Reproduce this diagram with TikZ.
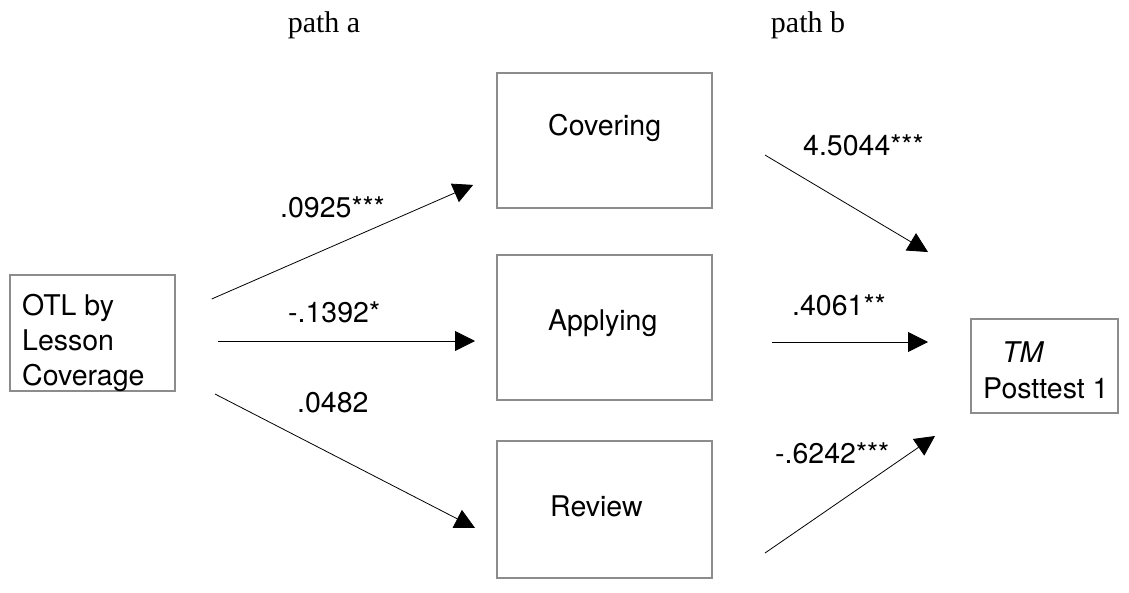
\documentclass[tikz,border=0pt]{standalone}
\usepackage{fontspec}
\setmainfont{TeX Gyre Heros}
\newfontfamily\pathfont{Liberation Serif}
\usetikzlibrary{arrows.meta}

\begin{document}
\begin{tikzpicture}[x=1pt,y=-1pt,
  box/.style={draw=black!45,line width=1.5pt,rectangle,inner sep=0pt,outer sep=0pt},
  txt/.style={anchor=base west,inner sep=0pt,font=\fontsize{28.5}{35}\selectfont},
  pth/.style={anchor=base,inner sep=0pt,font=\pathfont\fontsize{30}{36}\selectfont},
  arr/.style={-{Triangle[length=20pt,width=20pt]},line width=0.8pt}]
 \useasboundingbox (0,0) rectangle (1129,592);

 % boxes
 \node [box,minimum width=165pt,minimum height=116pt] (otl) at (92.5,333) {};
 \node [box,minimum width=215pt,minimum height=135pt] (cov) at (604.5,140.5) {};
 \node [box,minimum width=215pt,minimum height=145pt] (app) at (604.5,327.5) {};
 \node [box,minimum width=215pt,minimum height=137pt] (rev) at (604.5,509.5) {};
 \node [box,minimum width=147pt,minimum height=94pt] (tm) at (1044.5,366) {};

 % box texts
 \node [txt,anchor=north west,align=left] (otltxt) at (22,294.5) {OTL by\\Lesson\\Coverage};
 \node [txt] (covtxt) at (548,135) {Covering};
 \node [txt] (apptxt) at (548,330) {Applying};
 \node [txt] (revtxt) at (550,516) {Review};
 \node [txt] (tmtxt) at (1002,362) {\itshape TM};
 \node [txt] (posttxt) at (983,398) {Posttest 1};

 \node [pth] (patha) at (324,32) {path a};
 \node [pth] (pathb) at (808,32) {path b};

 % arrows: from/to, shift at start/end, shorten at start/end
 \foreach \s/\e/\a/\b/\p/\q in {otl.east/cov.west/18/-34/40/26,
                                 otl.east/app.west/-8/-13.5/43/22,
                                 otl.east/rev.west/-40.4/-29.8/45/24.7,
                                 cov.east/tm.west/17/88.4/61.7/50,
                                 app.east/tm.west/-14.5/24/60/43,
                                 rev.east/tm.west/-80/-45.2/64.3/43.7}
   \draw [arr,shorten <=\p pt,shorten >=\q pt] ([yshift=\a pt]\s) -- ([yshift=\b pt]\e);

 % coefficients
 \foreach \x/\y/\n/\t in {280/217/ca/.0925***, 288/322/aa/-.1392*, 297/412/ra/.0482,
                          803/155/cb/4.5044***, 792/315/ab/.4061**, 775/463/rb/-.6242***}
   \node [txt] (\n) at (\x,\y) {\t};
\end{tikzpicture}
\end{document}
